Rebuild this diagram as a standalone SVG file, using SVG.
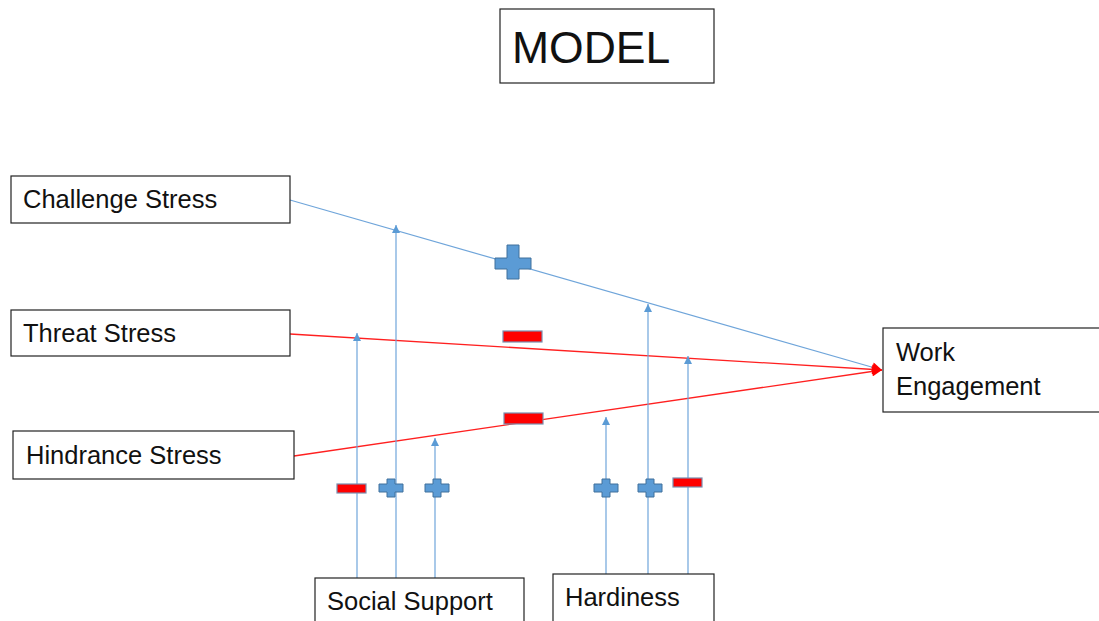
<svg xmlns="http://www.w3.org/2000/svg" width="1099" height="621" viewBox="0 0 1099 621">
<style>
.box{fill:#fff;stroke:#222;stroke-width:1.2}
.t{font-family:"Liberation Sans",Arial,sans-serif;font-size:25.5px;fill:#111}
.blue{stroke:#6FA5DA;stroke-width:1.2;fill:none}
.red{stroke:#FF2020;stroke-width:1.3;fill:none}
.plus{fill:#5B9BD5;stroke:#41719C;stroke-width:1}
.minus{fill:#FF0000;stroke:#7A8FB0;stroke-width:1.2}
</style>
<defs>
<marker id="ab" viewBox="0 0 10 10" refX="10" refY="5" markerWidth="10" markerHeight="8" markerUnits="userSpaceOnUse" orient="auto">
<path d="M0,0 L10,5 L0,10 Z" fill="#5B9BD5"/>
</marker>
<marker id="ar" viewBox="0 0 10 10" refX="10" refY="5" markerWidth="11" markerHeight="10" markerUnits="userSpaceOnUse" orient="auto">
<path d="M0,0 L10,5 L0,10 Z" fill="#FF0000"/>
</marker>
</defs>
<rect width="1099" height="621" fill="#fff"/>

<g id="title">
<rect class="box" x="500" y="9" width="214" height="74"/>
<text x="512" y="63" style="font-family:'Liberation Sans',Arial,sans-serif;font-size:44.5px;fill:#111">MODEL</text>
</g>

<g id="connectors">
<line class="blue" x1="290" y1="200" x2="882" y2="370" marker-end="url(#ar)"/>
<line class="red" x1="290" y1="334" x2="882" y2="370" marker-end="url(#ar)"/>
<line class="red" x1="294" y1="456" x2="882" y2="370" marker-end="url(#ar)"/>
<line class="blue" x1="357" y1="578" x2="357" y2="333" marker-end="url(#ab)"/>
<line class="blue" x1="396" y1="578" x2="396" y2="225" marker-end="url(#ab)"/>
<line class="blue" x1="435" y1="578" x2="435" y2="438" marker-end="url(#ab)"/>
<line class="blue" x1="606" y1="574" x2="606" y2="417" marker-end="url(#ab)"/>
<line class="blue" x1="648" y1="574" x2="648" y2="304" marker-end="url(#ab)"/>
<line class="blue" x1="688" y1="574" x2="688" y2="356" marker-end="url(#ab)"/>
</g>

<g id="signs">
<path class="plus" d="M507,245 h12 v13 h12 v11 h-12 v10 h-12 v-10 h-12 v-11 h12 Z"/>
<rect class="minus" x="503" y="331" width="39" height="11"/>
<rect class="minus" x="504" y="413" width="39" height="11"/>
<rect class="minus" x="337" y="484" width="29" height="9"/>
<path class="plus" d="M387,479 h8 v5 h8 v8 h-8 v5 h-8 v-5 h-8 v-8 h8 Z"/>
<path class="plus" d="M433,479 h8 v5 h8 v8 h-8 v5 h-8 v-5 h-8 v-8 h8 Z"/>
<path class="plus" d="M602,479 h8 v5 h8 v8 h-8 v5 h-8 v-5 h-8 v-8 h8 Z"/>
<path class="plus" d="M646,479 h8 v5 h8 v8 h-8 v5 h-8 v-5 h-8 v-8 h8 Z"/>
<rect class="minus" x="673" y="478" width="29" height="9"/>
</g>

<g id="challenge">
<rect class="box" x="11" y="176" width="279" height="47"/>
<text class="t" x="23" y="208">Challenge Stress</text>
</g>
<g id="threat">
<rect class="box" x="11" y="310" width="279" height="46"/>
<text class="t" x="23" y="342">Threat Stress</text>
</g>
<g id="hindrance">
<rect class="box" x="13" y="431" width="281" height="48"/>
<text class="t" x="26" y="464">Hindrance Stress</text>
</g>
<g id="engagement">
<rect class="box" x="883" y="328" width="220" height="84"/>
<text class="t" x="896" y="361">Work</text>
<text class="t" x="896" y="395">Engagement</text>
</g>
<g id="social">
<rect class="box" x="315" y="578" width="209" height="50"/>
<text class="t" x="327" y="610">Social Support</text>
</g>
<g id="hardiness">
<rect class="box" x="553" y="574" width="161" height="52"/>
<text class="t" x="565" y="606">Hardiness</text>
</g>
</svg>
